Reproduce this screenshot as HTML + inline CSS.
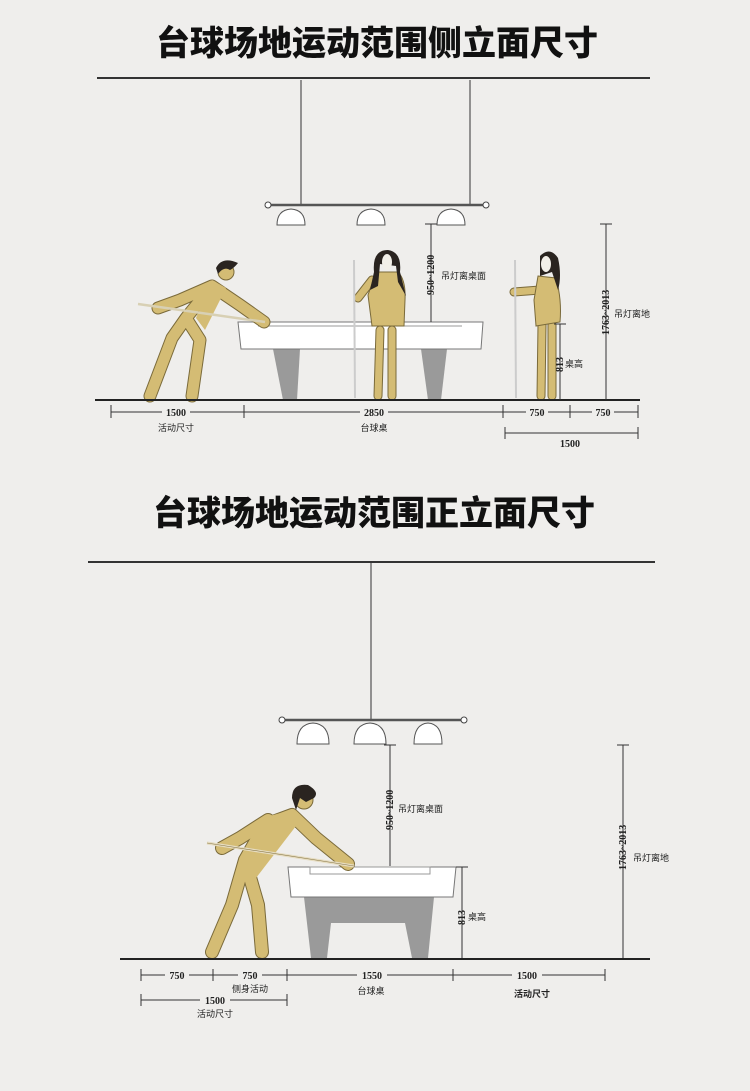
<!DOCTYPE html>
<html><head><meta charset="utf-8"><style>
html,body{margin:0;padding:0;background:#efeeec;}
svg{display:block;}
text{font-family:"Liberation Serif","Noto Serif CJK SC",serif;fill:#222;}
.t{font-family:"Noto Sans CJK SC","WenQuanYi Zen Hei",sans-serif;font-weight:900;font-size:34px;fill:#111;}
.s{font-size:10px;font-weight:bold;}
.c{font-family:"Noto Sans CJK SC",sans-serif;font-size:9px;}
.ln{stroke:#333;stroke-width:1;fill:none;}
.o{fill:none;stroke:#7a6a3a;stroke-linecap:round;stroke-linejoin:round;}
.f{fill:none;stroke:#d4bc74;stroke-linecap:round;stroke-linejoin:round;}
</style></head><body>
<svg width="750" height="1091" viewBox="0 0 750 1091">
<rect width="750" height="1091" fill="#efeeec"/>
<!-- TOP -->
<text class="t" x="377" y="55" text-anchor="middle">台球场地运动范围侧立面尺寸</text>
<line x1="97" y1="78" x2="650" y2="78" stroke="#333" stroke-width="2"/>
<line x1="301" y1="80" x2="301" y2="205" class="ln"/>
<line x1="470" y1="80" x2="470" y2="205" class="ln"/>
<line x1="270" y1="205" x2="484" y2="205" stroke="#555" stroke-width="2.5"/>
<circle cx="268" cy="205" r="3" fill="#fff" stroke="#444"/><circle cx="486" cy="205" r="3" fill="#fff" stroke="#444"/>
<g fill="#fff" stroke="#555" stroke-width="1">
<path d="M277,225 Q277,210 291,209 Q305,210 305,225Z"/>
<path d="M357,225 Q357,210 371,209 Q385,210 385,225Z"/>
<path d="M437,225 Q437,210 451,209 Q465,210 465,225Z"/>
</g>
<!-- table -->
<polygon points="273,349 300,349 297,400 283,400" fill="#9a9a9a"/>
<polygon points="421,349 447,349 441,400 428,400" fill="#9a9a9a"/>
<path d="M238,322 L483,322 L481,349 L241,349Z" fill="#fff" stroke="#777"/>
<line x1="258" y1="326" x2="462" y2="326" stroke="#999"/>
<!-- top man -->
<g>
<path class="o" stroke-width="13" d="M150,396 L172,338 L186,318 L200,340 L192,396 M186,318 L212,286 L240,305 L264,322 M212,286 L180,300 L158,308"/>
<path class="f" stroke-width="11" d="M150,396 L172,338 L186,318 L200,340 L192,396 M186,318 L212,286 L240,305 L264,322 M212,286 L180,300 L158,308"/>
<path d="M196,318 L212,280 L226,288 L205,330Z" fill="#d4bc74"/>
<circle cx="226" cy="272" r="8" fill="#d4bc74" stroke="#7a6a3a"/>
<path d="M216,268 Q222,256 238,263 Q234,268 230,270 Q224,266 218,274Z" fill="#2a2420"/>
<line x1="138" y1="304" x2="265" y2="322" stroke="#d8d0b4" stroke-width="2.5"/>
</g>
<!-- woman center -->
<g>
<path class="o" stroke-width="9" d="M380,330 L378,396 M392,330 L392,396 M372,280 L358,298"/>
<path class="f" stroke-width="7" d="M380,330 L378,396 M392,330 L392,396 M372,280 L358,298"/>
<path d="M376,272 L398,272 Q406,280 405,300 L404,326 L372,326 L368,295Z" fill="#d4bc74" stroke="#7a6a3a"/>
<path d="M374,272 Q372,250 388,250 Q402,252 400,272 L406,296 L398,282 L396,266 L380,264 L378,286 L370,290Z" fill="#2a2420"/>
<ellipse cx="387" cy="262" rx="5" ry="8" fill="#f2efe8"/>
<line x1="354" y1="260" x2="355" y2="398" stroke="#ccc" stroke-width="2"/>
</g>
<!-- woman right -->
<g>
<path class="o" stroke-width="9" d="M542,325 L541,396 M552,325 L552,396 M540,290 L514,292"/>
<path class="f" stroke-width="7" d="M542,325 L541,396 M552,325 L552,396 M540,290 L514,292"/>
<path d="M538,276 L556,278 Q562,300 560,322 L536,326 L534,300Z" fill="#d4bc74" stroke="#7a6a3a"/>
<path d="M540,256 Q550,246 558,258 Q562,276 558,290 L552,272 L540,276Z" fill="#2a2420"/>
<ellipse cx="546" cy="264" rx="5" ry="8" fill="#f2efe8"/>
<line x1="515" y1="260" x2="516" y2="398" stroke="#ccc" stroke-width="2"/>
</g>
<line x1="95" y1="400" x2="640" y2="400" stroke="#222" stroke-width="2"/>
<!-- dims top -->
<g class="ln">
<line x1="111" y1="412" x2="638" y2="412"/>
<line x1="111" y1="405" x2="111" y2="418"/><line x1="244" y1="405" x2="244" y2="418"/><line x1="503" y1="405" x2="503" y2="418"/><line x1="570" y1="405" x2="570" y2="418"/><line x1="638" y1="405" x2="638" y2="418"/>
<line x1="505" y1="433" x2="638" y2="433"/><line x1="505" y1="427" x2="505" y2="439"/><line x1="638" y1="427" x2="638" y2="439"/>
<line x1="431" y1="224" x2="431" y2="322"/><line x1="425" y1="224" x2="437" y2="224"/>
<line x1="606" y1="224" x2="606" y2="400"/><line x1="600" y1="224" x2="612" y2="224"/>
<line x1="560" y1="324" x2="560" y2="400"/><line x1="554" y1="324" x2="566" y2="324"/>
</g>
<g text-anchor="middle">
<rect x="162" y="406" width="28" height="11" fill="#efeeec"/><text x="176" y="416" class="s">1500</text>
<rect x="360" y="406" width="28" height="11" fill="#efeeec"/><text x="374" y="416" class="s">2850</text>
<rect x="526" y="406" width="22" height="11" fill="#efeeec"/><text x="537" y="416" class="s">750</text>
<rect x="592" y="406" width="22" height="11" fill="#efeeec"/><text x="603" y="416" class="s">750</text>
<text x="570" y="447" class="s">1500</text>
<text x="176" y="431" class="c">活动尺寸</text>
<text x="374" y="431" class="c">台球桌</text>
</g>
<text x="0" y="0" class="s" transform="translate(434,295) rotate(-90)" font-size="8">950~1200</text>
<text x="441" y="279" class="c">吊灯离桌面</text>
<text x="0" y="0" class="s" transform="translate(609,335) rotate(-90)" font-size="8">1763~2013</text>
<text x="614" y="317" class="c">吊灯离地</text>
<text x="0" y="0" class="s" transform="translate(563,372) rotate(-90)" font-size="8">813</text>
<text x="565" y="367" class="c">桌高</text>

<!-- BOTTOM -->
<text class="t" x="374" y="525" text-anchor="middle">台球场地运动范围正立面尺寸</text>
<line x1="88" y1="562" x2="655" y2="562" stroke="#333" stroke-width="2"/>
<line x1="371" y1="563" x2="371" y2="720" class="ln"/>
<line x1="284" y1="720" x2="462" y2="720" stroke="#555" stroke-width="2.5"/>
<circle cx="282" cy="720" r="3" fill="#fff" stroke="#444"/><circle cx="464" cy="720" r="3" fill="#fff" stroke="#444"/>
<g fill="#fff" stroke="#555">
<path d="M297,744 Q297,724 313,723 Q329,724 329,744Z"/>
<path d="M354,744 Q354,724 370,723 Q386,724 386,744Z"/>
<path d="M414,744 Q414,724 428,723 Q442,724 442,744Z"/>
</g>
<polygon points="304,897 434,897 428,958 412,958 405,923 331,923 327,958 311,958" fill="#9a9a9a"/>
<path d="M288,867 L456,867 L453,897 L291,897Z" fill="#fff" stroke="#777"/>
<rect x="310" y="867" width="120" height="7" fill="#fff" stroke="#999"/>
<!-- man bottom -->
<g>
<path class="o" stroke-width="14" d="M212,952 L232,905 L245,860 L258,905 L262,952 M245,860 L265,825 L292,815 L316,838 L348,864 M268,820 L240,838 L222,848"/>
<path class="f" stroke-width="12" d="M212,952 L232,905 L245,860 L258,905 L262,952 M245,860 L265,825 L292,815 L316,838 L348,864 M268,820 L240,838 L222,848"/>
<path d="M238,870 L262,818 L292,810 L296,826 L256,878Z" fill="#d4bc74"/>
<circle cx="304" cy="800" r="9" fill="#d4bc74" stroke="#7a6a3a"/>
<path d="M292,798 Q292,783 308,785 Q320,792 314,798 L306,802 L300,798 L296,810Z" fill="#2a2420"/>
<line x1="207" y1="843" x2="354" y2="866" stroke="#e6dcc0" stroke-width="3"/>
<line x1="207" y1="843" x2="354" y2="866" stroke="#8a7a4a" stroke-width="0.6"/>
</g>
<line x1="120" y1="959" x2="650" y2="959" stroke="#222" stroke-width="2"/>
<g class="ln">
<line x1="141" y1="975" x2="605" y2="975"/>
<line x1="141" y1="969" x2="141" y2="981"/><line x1="213" y1="969" x2="213" y2="981"/><line x1="287" y1="969" x2="287" y2="981"/><line x1="453" y1="969" x2="453" y2="981"/><line x1="605" y1="969" x2="605" y2="981"/>
<line x1="141" y1="1000" x2="287" y2="1000"/><line x1="141" y1="994" x2="141" y2="1006"/><line x1="287" y1="994" x2="287" y2="1006"/>
<line x1="390" y1="745" x2="390" y2="866"/><line x1="384" y1="745" x2="396" y2="745"/>
<line x1="623" y1="745" x2="623" y2="958"/><line x1="617" y1="745" x2="629" y2="745"/>
<line x1="462" y1="867" x2="462" y2="958"/><line x1="456" y1="867" x2="468" y2="867"/>
</g>
<g text-anchor="middle">
<rect x="165" y="969" width="24" height="11" fill="#efeeec"/><text x="177" y="979" class="s">750</text>
<rect x="238" y="969" width="24" height="11" fill="#efeeec"/><text x="250" y="979" class="s">750</text>
<rect x="357" y="969" width="30" height="11" fill="#efeeec"/><text x="372" y="979" class="s">1550</text>
<rect x="512" y="969" width="30" height="11" fill="#efeeec"/><text x="527" y="979" class="s">1500</text>
<rect x="200" y="994" width="30" height="11" fill="#efeeec"/><text x="215" y="1004" class="s">1500</text>
<text x="250" y="992" class="c">侧身活动</text>
<text x="371" y="994" class="c">台球桌</text>
<text x="532" y="997" class="c" font-weight="bold">活动尺寸</text>
<text x="215" y="1017" class="c">活动尺寸</text>
</g>
<text x="0" y="0" class="s" transform="translate(393,830) rotate(-90)" font-size="9">950~1200</text>
<text x="398" y="812" class="c">吊灯离桌面</text>
<text x="0" y="0" class="s" transform="translate(626,870) rotate(-90)" font-size="9">1763~2013</text>
<text x="633" y="861" class="c">吊灯离地</text>
<text x="0" y="0" class="s" transform="translate(465,925) rotate(-90)" font-size="9">813</text>
<text x="468" y="920" class="c">桌高</text>
</svg>
</body></html>
